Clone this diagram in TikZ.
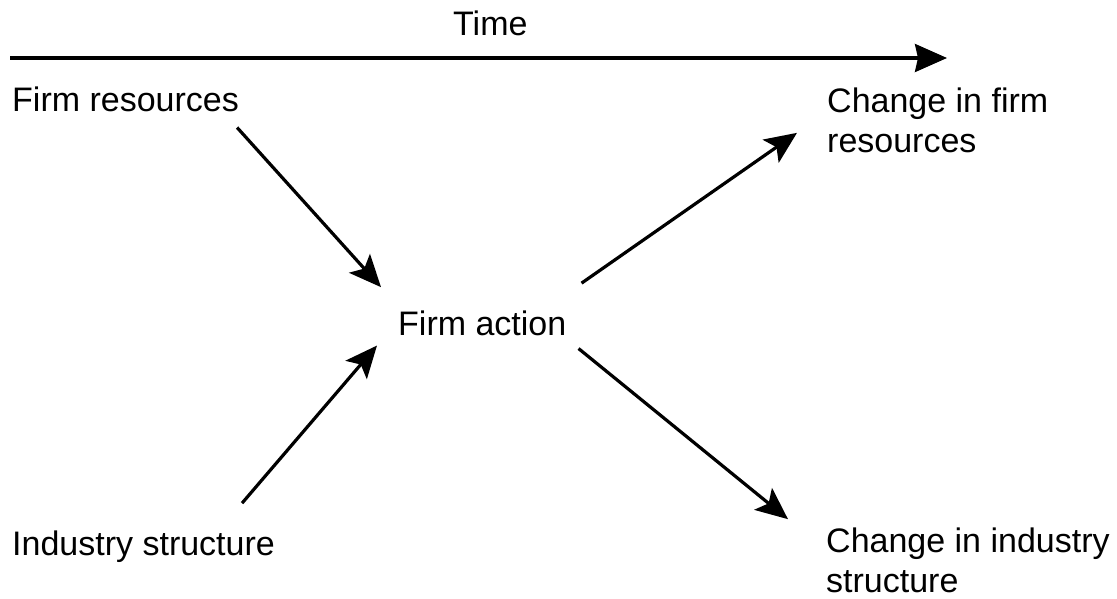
\documentclass[tikz,border=0pt]{standalone}
\usepackage{fontspec}
\setmainfont{Liberation Sans}
\usetikzlibrary{arrows.meta,calc}

\tikzset{
  label/.style={inner sep=0pt, anchor=base west, align=left,
                font=\fontsize{34}{40}\selectfont},
  conn/.style={line width=3.2pt,
               -{Stealth[length=32pt,width=28pt,inset=7pt]}},
  timeline/.style={line width=3.2pt,
               -{Stealth[length=32pt,width=28pt,inset=3pt]}}
}

\begin{document}
\begin{tikzpicture}[x=1pt,y=-1pt]
  \useasboundingbox (0,0) rectangle (1117,599);

  % time axis
  \node[label] (time) at (453,36) {Time};
  \coordinate (t0) at (10,58);
  \coordinate (t1) at (947,58);
  \draw[timeline] (t0) -- (t1);

  % nodes (multi-line labels are placed by the baseline of their last line)
  \node[label] (fr)  at (12,112)  {Firm resources};
  \node[label] (cfr) at (827,153) {Change in firm\\resources};
  \node[label] (fa)  at (398,335) {Firm action};
  \node[label] (is)  at (12,555)  {Industry structure};
  \node[label] (cis) at (826,592) {Change in industry\\structure};

  % connectors
  \draw[conn] ($(fr.south east)+(-2,15)$) -- ($(fa.north west)+(-17,-23)$);
  \draw[conn] ($(is.north east)+(-33,-27)$) -- ($(fa.south west)+(-21,10)$);
  \draw[conn] ($(fa.north east)+(15,-27)$) -- ($(cfr.west)+(-30,12)$);
  \draw[conn] ($(fa.south east)+(12,13)$) -- ($(cis.north west)+(-38,-8)$);
\end{tikzpicture}
\end{document}
